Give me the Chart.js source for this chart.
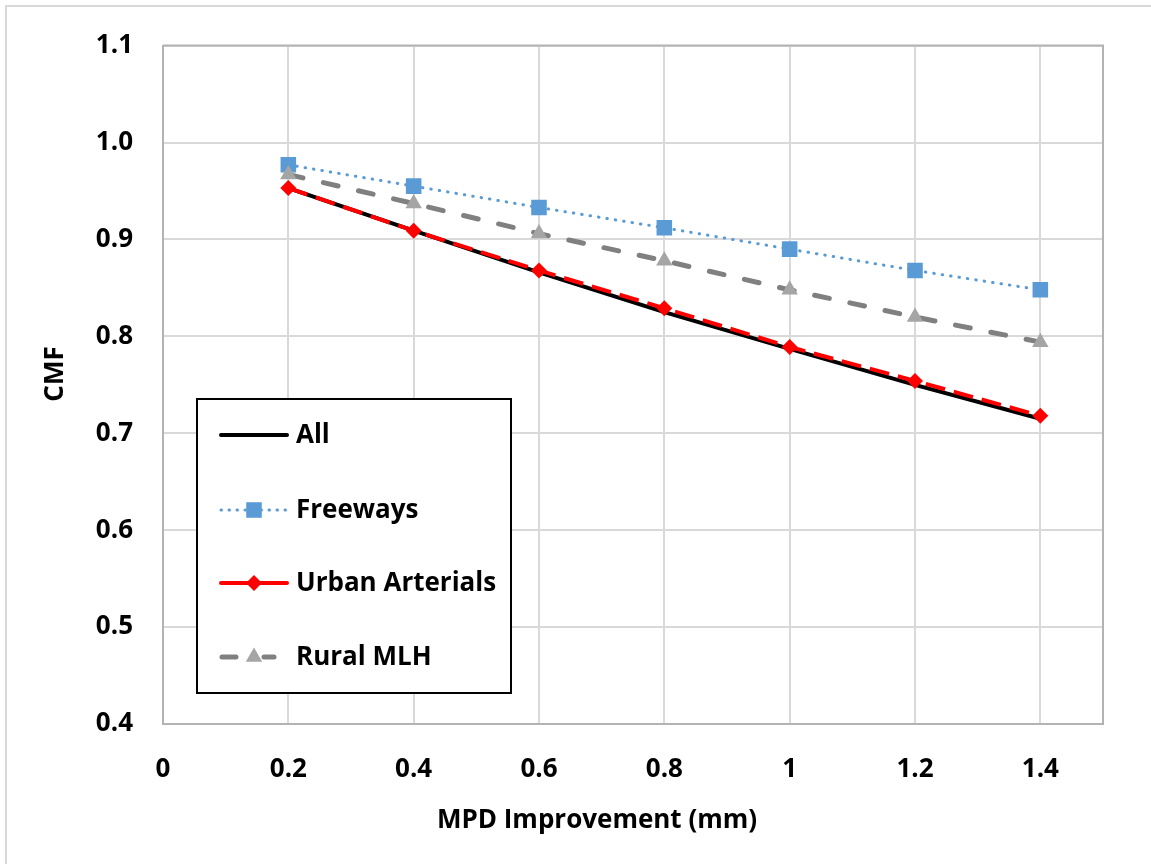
<!DOCTYPE html>
<html>
<head>
<meta charset="utf-8">
<script src="https://cdn.jsdelivr.net/npm/chart.js@4/dist/chart.umd.min.js"></script>
<style>
  html, body { margin: 0; padding: 0; background: #ffffff; }
  #wrap { position: relative; width: 1151px; height: 864px; }
  canvas { display: block; }
</style>
</head>
<body>
<div id="wrap"><canvas id="c" width="1151" height="864"></canvas></div>
<script>
// ---- data ----
const mpd = [0.2, 0.4, 0.6, 0.8, 1.0, 1.2, 1.4];
const allValues = [0.953, 0.909, 0.866, 0.825, 0.787, 0.750, 0.715];
const freewayValues = [0.977, 0.955, 0.933, 0.912, 0.890, 0.868, 0.848];
const urbanValues = [0.953, 0.909, 0.868, 0.829, 0.789, 0.754, 0.718];
const ruralValues = [0.967, 0.937, 0.906, 0.878, 0.848, 0.820, 0.794];
const xTickValues = [0, 0.2, 0.4, 0.6, 0.8, 1.0, 1.2, 1.4];
const xTickLabels = ['0', '0.2', '0.4', '0.6', '0.8', '1', '1.2', '1.4'];
const yTickValues = [0.4, 0.5, 0.6, 0.7, 0.8, 0.9, 1.0, 1.1];
const yTickLabels = ['0.4', '0.5', '0.6', '0.7', '0.8', '0.9', '1.0', '1.1'];
const seriesNames = ['All', 'Freeways', 'Urban Arterials', 'Rural MLH'];
const xTitle = 'MPD Improvement (mm)';
const yTitle = 'CMF';

const FONT = '"Open Sans", "Liberation Sans", sans-serif';
const toPts = (vals) => mpd.map((x, i) => ({ x: x, y: vals[i] }));

const datasets = [
  { label: seriesNames[0], data: toPts(allValues), borderColor: '#000000', backgroundColor: '#000000',
    borderWidth: 4, pointRadius: 0, order: 3, _marker: 'none' },
  { label: seriesNames[1], data: toPts(freewayValues), borderColor: '#5B9BD5', backgroundColor: '#5B9BD5',
    borderWidth: 3, borderDash: [0.5, 8], borderCapStyle: 'round',
    pointStyle: 'rect', pointRadius: 11, pointBorderWidth: 0, pointBackgroundColor: '#5B9BD5', order: 2, _marker: 'rect' },
  { label: seriesNames[2], data: toPts(urbanValues), borderColor: '#FF0000', backgroundColor: '#FF0000',
    borderWidth: 4, borderDash: [20, 9],
    pointStyle: 'rectRot', pointRadius: 8, pointBorderWidth: 0, pointBackgroundColor: '#FF0000', order: 1, _marker: 'rectRot' },
  { label: seriesNames[3], data: toPts(ruralValues), borderColor: '#808080', backgroundColor: '#A5A5A5',
    borderWidth: 5, borderDash: [15, 21], borderCapStyle: 'round',
    pointStyle: 'triangle', pointRadius: 9.5, pointBorderWidth: 0, pointBackgroundColor: '#A5A5A5', order: 0, _marker: 'triangle' }
];

function drawMarker(ctx, kind, x, y, r, color) {
  ctx.save();
  ctx.fillStyle = color;
  ctx.beginPath();
  if (kind === 'rect') {
    const s = Math.SQRT1_2 * r;
    ctx.rect(x - s, y - s, 2 * s, 2 * s);
  } else if (kind === 'rectRot') {
    ctx.moveTo(x, y - r); ctx.lineTo(x + r, y); ctx.lineTo(x, y + r); ctx.lineTo(x - r, y); ctx.closePath();
  } else if (kind === 'triangle') {
    ctx.moveTo(x, y - r);
    ctx.lineTo(x + r * Math.sin(2 * Math.PI / 3), y - r * Math.cos(2 * Math.PI / 3));
    ctx.lineTo(x + r * Math.sin(4 * Math.PI / 3), y - r * Math.cos(4 * Math.PI / 3));
    ctx.closePath();
  } else { ctx.restore(); return; }
  ctx.fill();
  ctx.restore();
}

const decorPlugin = {
  id: 'decor',
  beforeDraw(chart) {
    const ctx = chart.ctx;
    ctx.save();
    ctx.fillStyle = '#ffffff';
    ctx.fillRect(0, 0, chart.width, chart.height);
    ctx.strokeStyle = '#d9d9d9';
    ctx.lineWidth = 2;
    ctx.beginPath();
    ctx.moveTo(6, chart.height + 5); ctx.lineTo(6, 6); ctx.lineTo(chart.width + 5, 6);
    ctx.stroke();
    ctx.restore();
  },
  beforeDatasetsDraw(chart) {
    const ctx = chart.ctx, a = chart.chartArea;
    ctx.save();
    ctx.strokeStyle = '#b3b3b3';
    ctx.lineWidth = 2;
    ctx.beginPath();
    ctx.moveTo(a.left, a.top); ctx.lineTo(a.right, a.top); ctx.lineTo(a.right, a.bottom);
    ctx.stroke();
    ctx.restore();
  },
  afterDraw(chart) {
    const ctx = chart.ctx;
    ctx.save();
    // axis titles
    ctx.fillStyle = '#000000';
    ctx.font = 'bold 26px ' + FONT;
    ctx.textAlign = 'center';
    ctx.textBaseline = 'middle';
    ctx.fillText(xTitle, 597, 821);
    ctx.save();
    ctx.translate(56, 374);
    ctx.rotate(-Math.PI / 2);
    ctx.fillText(yTitle, 0, 0);
    ctx.restore();

    // legend box
    const bx = 197, by = 399, bw = 314, bh = 294;
    ctx.fillStyle = '#ffffff';
    ctx.fillRect(bx, by, bw, bh);
    ctx.strokeStyle = '#000000';
    ctx.lineWidth = 2;
    ctx.strokeRect(bx, by, bw, bh);
    const rowsY = [435, 510, 583, 657];
    const legendOrder = [0, 1, 2, 3];
    legendOrder.forEach((di, k) => {
      const ds = chart.data.datasets[di];
      const y = rowsY[k];
      ctx.save();
      ctx.strokeStyle = ds.borderColor;
      ctx.lineWidth = ds.borderWidth;
      ctx.lineCap = ds.borderCapStyle || 'round';
      if (di === 0) ctx.lineCap = 'round';
      if (di === 2) ctx.lineCap = 'round';
      ctx.setLineDash(ds.borderDash || []);
      ctx.beginPath();
      if (di === 3) {
        ctx.setLineDash([]);
        ctx.moveTo(222, y); ctx.lineTo(236, y);
        ctx.moveTo(264, y); ctx.lineTo(274, y);
      } else if (di === 2) {
        ctx.setLineDash([]);
        ctx.moveTo(221, y); ctx.lineTo(287, y);
      } else if (di === 1) {
        ctx.setLineDash([0.5, 7.5]);
        ctx.moveTo(221, y); ctx.lineTo(290, y);
      } else {
        ctx.moveTo(221, y); ctx.lineTo(287, y);
      }
      ctx.stroke();
      ctx.restore();
      drawMarker(ctx, ds._marker, 254, y, ds.pointRadius, ds.pointBackgroundColor || ds.backgroundColor);
      ctx.fillStyle = '#000000';
      ctx.font = 'bold 26px ' + FONT;
      ctx.textAlign = 'left';
      ctx.textBaseline = 'middle';
      ctx.fillText(ds.label, 296, y + 1);
    });
    ctx.restore();
  }
};

new Chart(document.getElementById('c'), {
  type: 'line',
  data: { datasets: datasets },
  options: {
    responsive: false,
    animation: false,
    devicePixelRatio: 1,
    layout: { padding: { top: 40, right: 48, left: 0, bottom: 0 } },
    plugins: { legend: { display: false }, tooltip: { enabled: false }, title: { display: false } },
    elements: { line: { tension: 0, fill: false } },
    scales: {
      x: {
        type: 'linear', min: 0, max: 1.5,
        afterBuildTicks: (s) => { s.ticks = xTickValues.map(v => ({ value: v })); },
        afterFit: (s) => { s.height = 140; },
        grid: { color: '#d9d9d9', lineWidth: 2, drawTicks: false },
        border: { color: '#b3b3b3', width: 2 },
        ticks: {
          padding: 30, color: '#000000', font: { family: FONT, size: 26, weight: 'bold' },
          maxRotation: 0, autoSkip: false,
          callback: (v) => { const i = xTickValues.findIndex(t => Math.abs(t - v) < 1e-9); return i >= 0 ? xTickLabels[i] : ''; }
        },
        title: { display: false, text: xTitle }
      },
      y: {
        type: 'linear', min: 0.4, max: 1.1,
        afterBuildTicks: (s) => { s.ticks = yTickValues.map(v => ({ value: v })); },
        afterFit: (s) => { s.width = 163; },
        grid: { color: '#d9d9d9', lineWidth: 2, drawTicks: false },
        border: { color: '#b3b3b3', width: 2 },
        ticks: {
          padding: 30, color: '#000000', font: { family: FONT, size: 26, weight: 'bold' },
          autoSkip: false,
          callback: (v) => { const i = yTickValues.findIndex(t => Math.abs(t - v) < 1e-9); return i >= 0 ? yTickLabels[i] : ''; }
        },
        title: { display: false, text: yTitle }
      }
    }
  },
  plugins: [decorPlugin]
});
</script>
</body>
</html>
